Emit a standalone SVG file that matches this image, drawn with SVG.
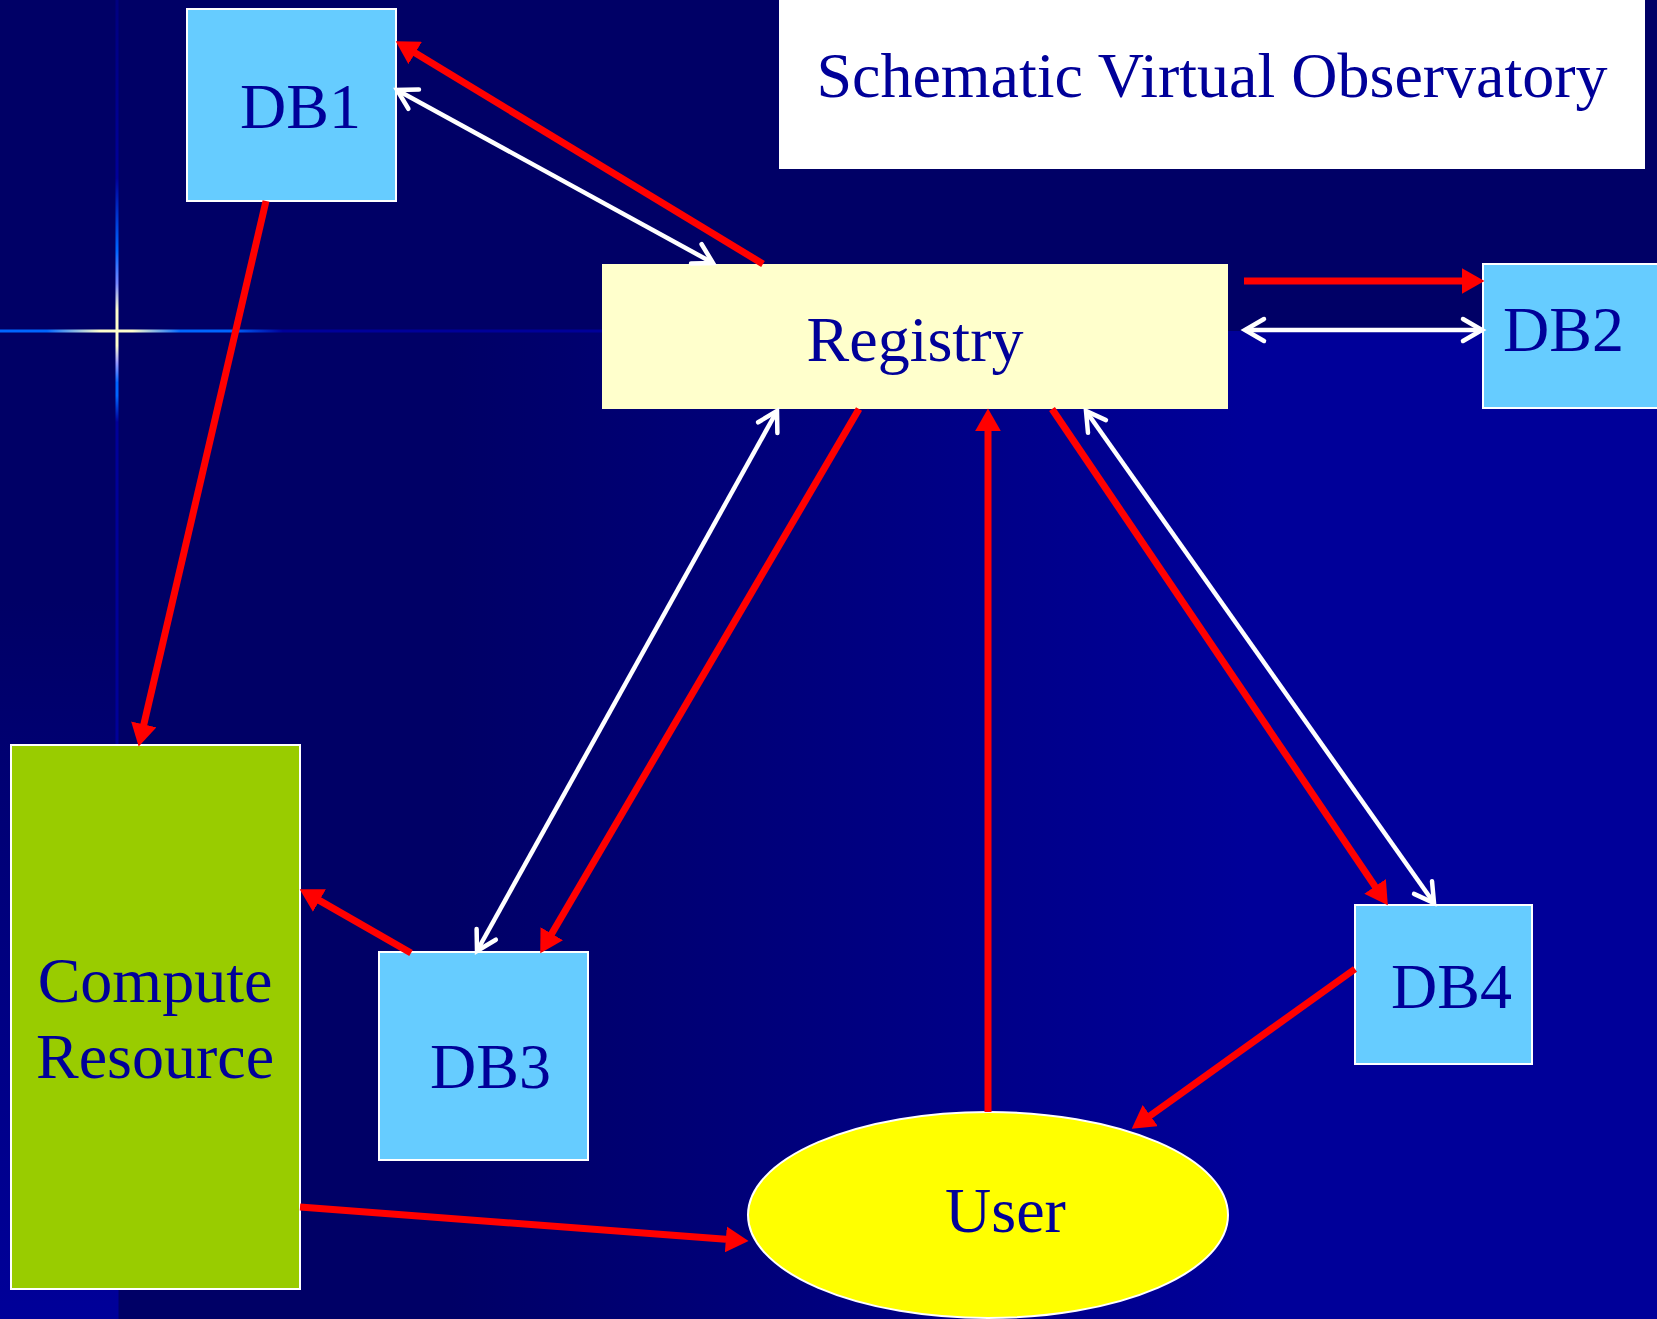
<svg xmlns="http://www.w3.org/2000/svg" width="1657" height="1319" viewBox="0 0 1657 1319">
  <style>
    .lbl { font-family: "Liberation Serif", "Times New Roman", serif; font-size: 64px; fill: #000099; }
    .box { stroke: #FFFFFF; stroke-width: 2; }
    .red { stroke: #FF0000; stroke-width: 7; fill: none; }
    .wht { stroke: #FFFFFF; stroke-width: 4.5; fill: none; }
  </style>
  <defs>
    <marker id="redHead" markerUnits="userSpaceOnUse" markerWidth="24" markerHeight="26" viewBox="0 0 22 24" refX="3" refY="12" orient="auto">
      <path d="M0,0 L21,12 L0,24 z" fill="#FF0000"/>
    </marker>
    <marker id="whiteHead" markerUnits="userSpaceOnUse" markerWidth="30" markerHeight="30" viewBox="-4 -4 30 30" refX="19" refY="11" orient="auto-start-reverse">
      <path d="M0,0 L19,11 L0,22" fill="none" stroke="#FFFFFF" stroke-width="4.5" stroke-linecap="round" stroke-linejoin="miter"/>
    </marker>
    <linearGradient id="vline" gradientUnits="userSpaceOnUse" x1="0" y1="0" x2="0" y2="1319">
      <stop offset="0" stop-color="#000080"/>
      <stop offset="0.135" stop-color="#000099"/>
      <stop offset="0.19" stop-color="#0066FF"/>
      <stop offset="0.215" stop-color="#7788FF"/>
      <stop offset="0.235" stop-color="#FFFFCC"/>
      <stop offset="0.262" stop-color="#FFFFCC"/>
      <stop offset="0.275" stop-color="#9999FF"/>
      <stop offset="0.29" stop-color="#0066FF"/>
      <stop offset="0.30" stop-color="#0066FF"/>
      <stop offset="0.32" stop-color="#000099"/>
      <stop offset="1" stop-color="#000099"/>
    </linearGradient>
    <linearGradient id="hline" gradientUnits="userSpaceOnUse" x1="0" y1="0" x2="602" y2="0">
      <stop offset="0" stop-color="#0066FF"/>
      <stop offset="0.078" stop-color="#0066FF"/>
      <stop offset="0.166" stop-color="#FFFFCC"/>
      <stop offset="0.22" stop-color="#FFFFCC"/>
      <stop offset="0.30" stop-color="#0066FF"/>
      <stop offset="0.385" stop-color="#0066FF"/>
      <stop offset="0.47" stop-color="#000099"/>
      <stop offset="1" stop-color="#000099"/>
    </linearGradient>
    <linearGradient id="lower" gradientUnits="userSpaceOnUse" x1="450" y1="0" x2="1250" y2="0">
      <stop offset="0" stop-color="#000066"/>
      <stop offset="1" stop-color="#000099"/>
    </linearGradient>
    <linearGradient id="strip" gradientUnits="userSpaceOnUse" x1="0" y1="600" x2="0" y2="1319">
      <stop offset="0" stop-color="#000066"/>
      <stop offset="1" stop-color="#000099"/>
    </linearGradient>
  </defs>

  <!-- background -->
  <g id="background">
    <rect x="0" y="0" width="1657" height="1319" fill="#000066"/>
    <rect x="116" y="331" width="1541" height="988" fill="url(#lower)"/>
    <rect x="0" y="331" width="116" height="988" fill="url(#strip)"/>
    <rect x="115.5" y="0" width="3" height="1319" fill="url(#vline)"/>
    <rect x="0" y="329.5" width="602" height="3" fill="url(#hline)"/>
  </g>

  <!-- title -->
  <g id="title">
    <rect x="779" y="-2" width="866" height="171" fill="#FFFFFF"/>
    <text class="lbl" x="1212" y="97" text-anchor="middle">Schematic Virtual Observatory</text>
  </g>

  <!-- nodes -->
  <g id="db1">
    <rect class="box" x="187" y="9" width="209" height="192" fill="#66CCFF"/>
    <text class="lbl" x="240" y="128">DB1</text>
  </g>
  <g id="registry">
    <rect x="602" y="264" width="626" height="145" fill="#FFFFCC"/>
    <text class="lbl" x="915" y="361" text-anchor="middle">Registry</text>
  </g>
  <g id="db2">
    <rect class="box" x="1483" y="264" width="180" height="144" fill="#66CCFF"/>
    <text class="lbl" x="1503" y="351">DB2</text>
  </g>
  <g id="compute">
    <rect class="box" x="11" y="745" width="289" height="544" fill="#99CC00"/>
    <text class="lbl" x="155" y="1002" text-anchor="middle">Compute</text>
    <text class="lbl" x="155" y="1078" text-anchor="middle">Resource</text>
  </g>
  <g id="db3">
    <rect class="box" x="379" y="952" width="209" height="208" fill="#66CCFF"/>
    <text class="lbl" x="430" y="1088">DB3</text>
  </g>
  <g id="db4">
    <rect class="box" x="1355" y="905" width="177" height="159" fill="#66CCFF"/>
    <text class="lbl" x="1391" y="1008">DB4</text>
  </g>
  <g id="user">
    <ellipse class="box" cx="988" cy="1215" rx="240" ry="103" fill="#FFFF00"/>
    <text class="lbl" x="945" y="1232">User</text>
  </g>

  <!-- connectors -->
  <g id="connectors">
    <line class="red" x1="763" y1="264" x2="412.4" y2="51.3" marker-end="url(#redHead)"/>
    <line class="wht" x1="397" y1="90" x2="713" y2="263" marker-start="url(#whiteHead)" marker-end="url(#whiteHead)"/>
    <line class="red" x1="266" y1="201" x2="143.1" y2="727.5" marker-end="url(#redHead)"/>
    <line class="red" x1="1244" y1="281" x2="1465" y2="281" marker-end="url(#redHead)"/>
    <line class="wht" x1="1245" y1="330" x2="1482" y2="330" marker-start="url(#whiteHead)" marker-end="url(#whiteHead)"/>
    <line class="wht" x1="777" y1="411" x2="477" y2="951" marker-start="url(#whiteHead)" marker-end="url(#whiteHead)"/>
    <line class="red" x1="859" y1="409" x2="550.1" y2="936.5" marker-end="url(#redHead)"/>
    <line class="red" x1="988" y1="1112" x2="988" y2="428" marker-end="url(#redHead)"/>
    <line class="red" x1="1052" y1="409" x2="1376.9" y2="889.1" marker-end="url(#redHead)"/>
    <line class="wht" x1="1086" y1="411" x2="1434" y2="903" marker-start="url(#whiteHead)" marker-end="url(#whiteHead)"/>
    <line class="red" x1="411" y1="953" x2="316.6" y2="898.9" marker-end="url(#redHead)"/>
    <line class="red" x1="1355" y1="969" x2="1147.6" y2="1117.5" marker-end="url(#redHead)"/>
    <line class="red" x1="300" y1="1207" x2="729.1" y2="1239.6" marker-end="url(#redHead)"/>
  </g>
</svg>
